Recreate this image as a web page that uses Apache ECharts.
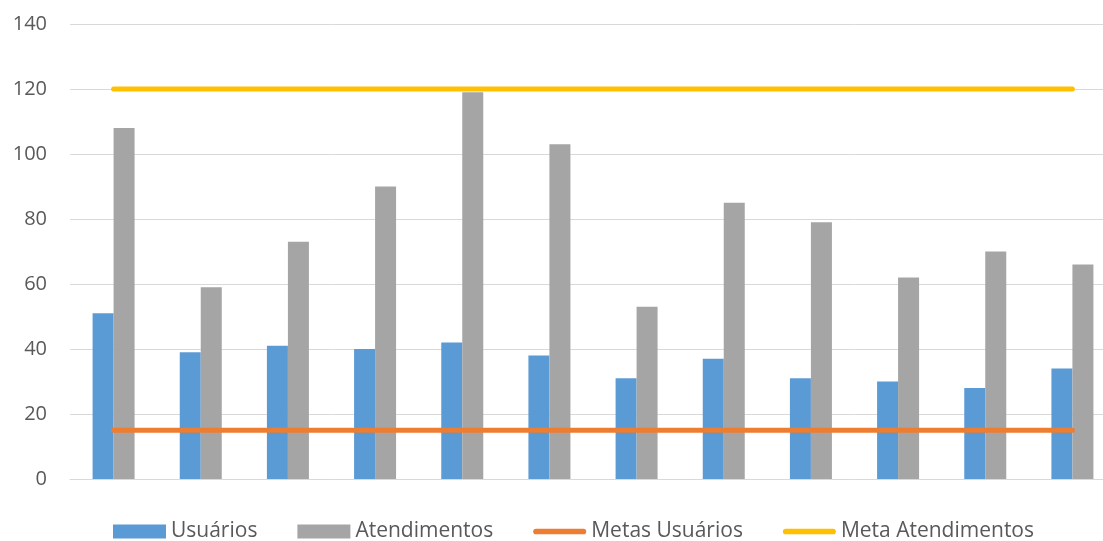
<!DOCTYPE html>
<html>
<head>
<meta charset="utf-8">
<script src="https://cdn.jsdelivr.net/npm/echarts@6/dist/echarts.min.js"></script>
<style>
  html, body { margin: 0; padding: 0; background: #ffffff; overflow: hidden; width: 1103px; height: 541px; }
  /* the plot runs a little past the right edge of the page */
  #chart { width: 1120px; height: 541px; }
</style>
</head>
<body>
<div id="chart"></div>
<script>
// Monthly periods (axis labels hidden)
const categories = ['1', '2', '3', '4', '5', '6', '7', '8', '9', '10', '11', '12'];
const usuarios = [51, 39, 41, 40, 42, 38, 31, 37, 31, 30, 28, 34];
const atendimentos = [108, 59, 73, 90, 119, 103, 53, 85, 79, 62, 70, 66];
const metaUsuarios = 15;
const metaAtendimentos = 120;
const yTicks = { min: 0, max: 140, interval: 20 };

const textColor = '#595959';
const fontFamily = '"Open Sans", "Liberation Sans", sans-serif';
// thin rounded bar used as the legend key of the target lines
const lineKey = 'path://M3,0 L53,0 A3,3 0 0 1 53,6 L3,6 A3,3 0 0 1 3,0 Z';

const chart = echarts.init(document.getElementById('chart'), null, { renderer: 'canvas' });

chart.setOption({
  animation: false,
  backgroundColor: '#ffffff',
  textStyle: { fontFamily: fontFamily },
  grid: { left: 70, top: 24, bottom: 62, right: 4, containLabel: false, outerBoundsMode: 'none' },
  legend: {
    left: 113,
    top: 521,
    padding: 0,
    itemWidth: 53,
    itemHeight: 14,
    itemGap: 40,
    itemTextGap: 4,
    textStyle: { color: textColor, fontSize: 21, fontFamily: fontFamily },
    data: [
      { name: 'Usuários', icon: 'rect' },
      { name: 'Atendimentos', icon: 'rect' },
      { name: 'Metas Usuários', icon: lineKey },
      { name: 'Meta Atendimentos', icon: lineKey }
    ]
  },
  xAxis: {
    type: 'category',
    data: categories,
    boundaryGap: true,
    axisLine: { show: true, lineStyle: { color: '#D9D9D9', width: 1 } },
    axisTick: { show: false },
    axisLabel: { show: false },
    splitLine: { show: false }
  },
  yAxis: {
    type: 'value',
    min: yTicks.min,
    max: yTicks.max,
    interval: yTicks.interval,
    axisLine: { show: false },
    axisTick: { show: false },
    axisLabel: { color: textColor, fontSize: 20, margin: 23, fontFamily: fontFamily },
    splitLine: { lineStyle: { color: '#D9D9D9', width: 1 } }
  },
  series: [
    {
      name: 'Usuários',
      type: 'bar',
      data: usuarios,
      barWidth: 21,
      barGap: '0%',
      itemStyle: { color: '#5B9BD5' }
    },
    {
      name: 'Atendimentos',
      type: 'bar',
      data: atendimentos,
      barWidth: 21,
      barGap: '0%',
      itemStyle: { color: '#A5A5A5' }
    },
    {
      name: 'Metas Usuários',
      type: 'line',
      data: categories.map(() => metaUsuarios),
      symbol: 'none',
      showSymbol: false,
      lineStyle: { color: '#ED7D31', width: 5, cap: 'round' },
      itemStyle: { color: '#ED7D31' },
      z: 5
    },
    {
      name: 'Meta Atendimentos',
      type: 'line',
      data: categories.map(() => metaAtendimentos),
      symbol: 'none',
      showSymbol: false,
      lineStyle: { color: '#FFC000', width: 5, cap: 'round' },
      itemStyle: { color: '#FFC000' },
      z: 5
    }
  ]
});
</script>
</body>
</html>
